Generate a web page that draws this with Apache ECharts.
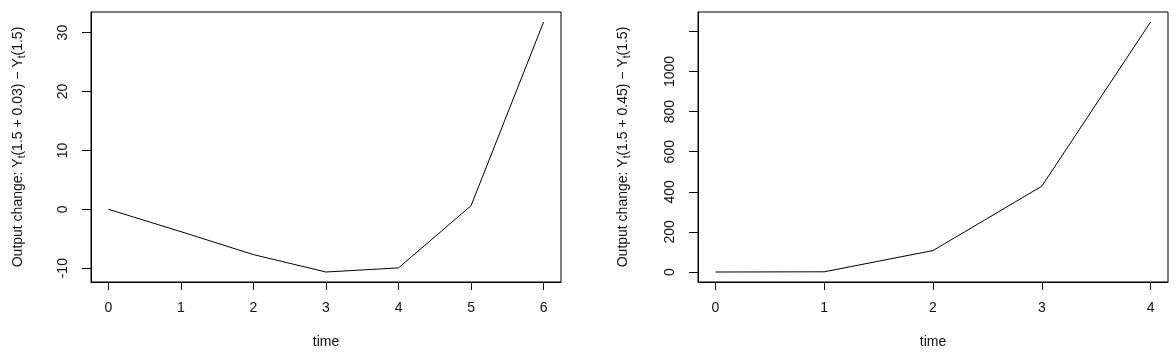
<!DOCTYPE html>
<html><head><meta charset="utf-8">
<script src="https://cdn.jsdelivr.net/npm/echarts@6/dist/echarts.min.js"></script>
<style>html,body{margin:0;padding:0;background:#fff}#c{width:1176px;height:354px}</style>
</head><body><div id="c"></div>
<script>
// Left panel: delta = 0.03
const timeLeft = [0, 1, 2, 3, 4, 5, 6];
const valuesLeft = [0, -3.8, -7.7, -10.65, -9.95, 0.6, 31.8];
const yTicksLeft = [-10, 0, 10, 20, 30];
// Right panel: delta = 0.45
const timeRight = [0, 1, 2, 3, 4];
const valuesRight = [0, 1, 107, 428, 1247];
const yTicksRight = [0, 200, 400, 600, 800, 1000, 1200];
const yLabelsRight = [0, 200, 400, 600, 800, 1000];

function rRange(arr) {
  const mn = Math.min(...arr), mx = Math.max(...arr), e = (mx - mn) * 0.04;
  return [mn - e, mx + e];
}
const font = 'Liberation Sans, Arial, sans-serif';
const col = '#111';
function xAxisFor(gi, cats) {
  const r = rRange(cats);
  return {
    gridIndex: gi, type: 'value', min: r[0], max: r[1],
    name: 'time', nameLocation: 'middle', nameGap: 53,
    nameTextStyle: {fontFamily: font, fontSize: 14, color: col},
    axisLine: {show: true, onZero: false, lineStyle: {color: '#000', width: 1}},
    axisTick: {show: true, length: 8, inside: false, customValues: cats, lineStyle: {color: '#000'}},
    axisLabel: {customValues: cats, margin: 19, fontFamily: font, fontSize: 14, color: col,
      formatter: v => String(v)},
    splitLine: {show: false}
  };
}
function yName(d) {
  return '{a|Output change: Y}{s|t}{a|(1.5 + ' + d + ') \u2212 Y}{s|t}{a|(1.5)}';
}
const richName = {
  a: {fontFamily: font, fontSize: 14, color: col, lineHeight: 17},
  s: {fontFamily: font, fontSize: 10, color: col, lineHeight: 10, verticalAlign: 'bottom', padding: [5, 0, 0, 0]}
};
function yAxisFor(gi, vals, ticks, labels, d) {
  const r = rRange(vals);
  return {
    gridIndex: gi, type: 'value', min: r[0], max: r[1],
    name: yName(d), nameLocation: 'middle', nameRotate: 90, nameGap: gi === 0 ? 64 : 66,
    nameTextStyle: {rich: richName},
    axisLine: {show: true, onZero: false, lineStyle: {color: '#000', width: 1}},
    axisTick: {show: true, length: 9, inside: false, customValues: ticks, lineStyle: {color: '#000'}},
    axisLabel: {customValues: labels, rotate: 90, margin: 21, fontFamily: font, fontSize: 14, color: col,
      formatter: v => String(v)},
    splitLine: {show: false}
  };
}
const chart = echarts.init(document.getElementById('c'), null, {renderer: 'canvas'});
chart.setOption({
  animation: false,
  backgroundColor: '#fff',
  grid: [
    {left: 91, top: 12, width: 470, height: 270, outerBoundsMode: 'none', containLabel: false,
     show: true, borderColor: '#000', borderWidth: 1, backgroundColor: 'transparent'},
    {left: 698, top: 12, width: 470, height: 270, outerBoundsMode: 'none', containLabel: false,
     show: true, borderColor: '#000', borderWidth: 1, backgroundColor: 'transparent'}
  ],
  xAxis: [xAxisFor(0, timeLeft), xAxisFor(1, timeRight)],
  yAxis: [
    yAxisFor(0, valuesLeft, yTicksLeft, yTicksLeft, '0.03'),
    yAxisFor(1, valuesRight, yTicksRight, yLabelsRight, '0.45')
  ],
  series: [
    {type: 'line', xAxisIndex: 0, yAxisIndex: 0, data: timeLeft.map((t, i) => [t, valuesLeft[i]]),
     showSymbol: false, lineStyle: {color: '#000', width: 1}},
    {type: 'line', xAxisIndex: 1, yAxisIndex: 1, data: timeRight.map((t, i) => [t, valuesRight[i]]),
     showSymbol: false, lineStyle: {color: '#000', width: 1}}
  ]
});
</script></body></html>
